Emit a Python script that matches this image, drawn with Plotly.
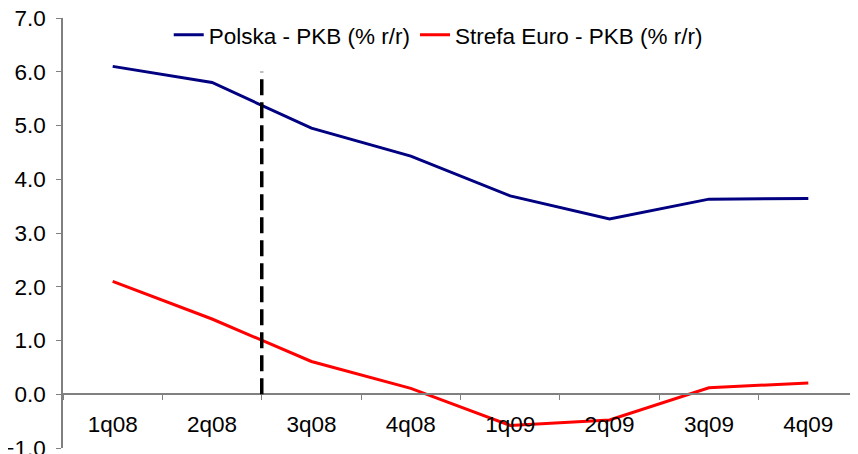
import plotly.graph_objects as go

categories = ["1q08", "2q08", "3q08", "4q08", "1q09", "2q09", "3q09", "4q09"]
polska = [6.1, 5.8, 4.95, 4.43, 3.69, 3.26, 3.63, 3.64]
euro = [2.1, 1.4, 0.61, 0.11, -0.58, -0.48, 0.12, 0.21]
y_ticks = [-1, 0, 1, 2, 3, 4, 5, 6, 7]
divider_x = 1.5
divider_y = [0, 6]

FONT = "Arial, Liberation Sans, sans-serif"

fig = go.Figure()
fig.add_trace(go.Scatter(x=categories, y=polska, mode="lines", name="Polska - PKB (% r/r)",
                         line=dict(color="#000080", width=3)))
fig.add_trace(go.Scatter(x=categories, y=euro, mode="lines", name="Strefa Euro - PKB (% r/r)",
                         line=dict(color="#FF0000", width=3)))

fig.add_shape(type="line", x0=divider_x, x1=divider_x, y0=divider_y[0], y1=divider_y[1],
              xref="x", yref="y", line=dict(color="black", width=3.5, dash="16px,7px"))

fig.update_layout(
    width=850, height=446,
    margin=dict(l=55, r=0, t=10, b=6, autoexpand=False),
    paper_bgcolor="white", plot_bgcolor="white",
    font=dict(family=FONT, size=22.5, color="black"),
    showlegend=True,
    legend=dict(orientation="h", x=0.133, xanchor="left", y=1.01, yanchor="top",
                font=dict(size=22.5), bgcolor="rgba(0,0,0,0)", itemwidth=30,
                tracegroupgap=0),
    xaxis=dict(type="category", range=[-0.5, 7.5], anchor="free", position=0.125,
               showline=True, linecolor="#808080", linewidth=1.5, automargin=False,
               ticks="outside", tickson="boundaries", ticklen=5, tickcolor="#808080",
               showgrid=False, zeroline=False, ticklabelstandoff=10,
               ticklabeloverflow="allow"),
    yaxis=dict(range=[-1, 7], tickvals=y_ticks, tickformat=".1f", automargin=False,
               showline=True, linecolor="#808080", linewidth=1.5,
               ticks="outside", ticklen=5, tickcolor="#808080",
               showgrid=False, zeroline=False, ticklabelstandoff=6,
               ticklabeloverflow="allow"),
)

fig.write_html("out.html")
